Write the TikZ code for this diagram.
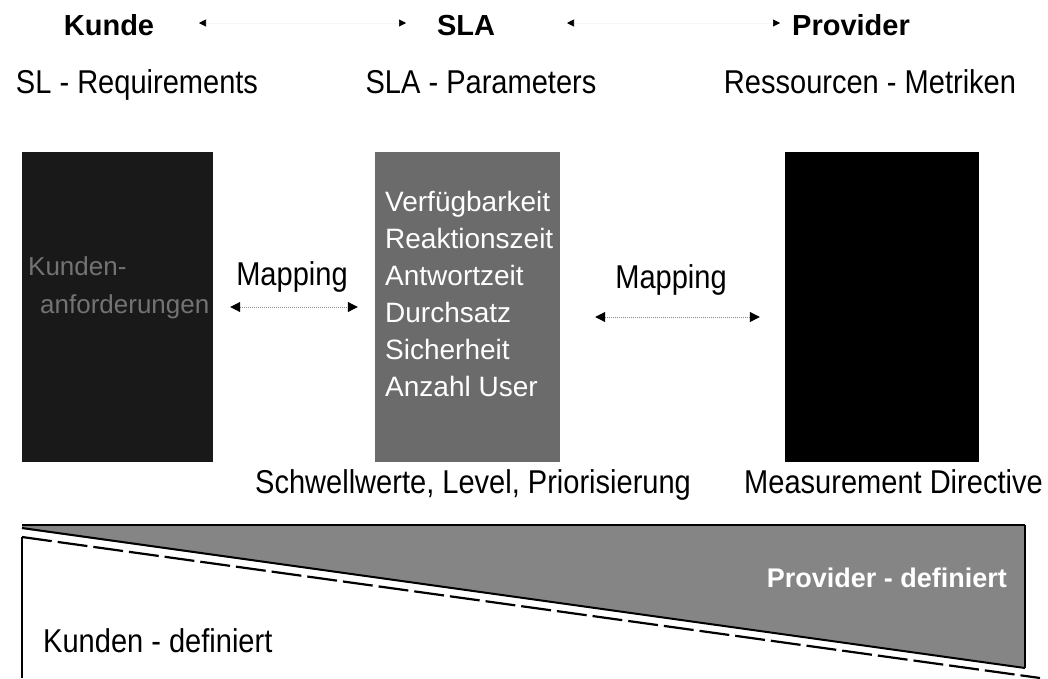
\documentclass[tikz,border=0pt]{standalone}
\usepackage{fontspec}
\setmainfont{Liberation Sans}
\newfontfamily\narrowfont[FakeStretch=0.88]{Liberation Sans}
\usetikzlibrary{arrows.meta}
\tikzset{
  ttl/.style={font=\fontsize{29}{34}\selectfont\bfseries, inner sep=0pt, anchor=base},
  lbl/.style={font=\narrowfont\fontsize{33}{38}\selectfont, inner sep=0pt, anchor=base},
  blbl/.style={font=\narrowfont\fontsize{33}{38}\selectfont, inner sep=0pt, anchor=base west},
  boxn/.style={rectangle, inner sep=0pt, draw=none, minimum height=310pt},
  ltext/.style={font=\fontsize{26}{32}\selectfont, text=black!55, inner sep=0pt, anchor=base west},
  mtext/.style={font=\fontsize{28}{34}\selectfont, text=white, inner sep=0pt, anchor=base west},
  toparrow/.style={draw=black!3, line width=0.6pt,
    {Triangle[black,length=7pt,width=7pt]}-{Triangle[black,length=7pt,width=7pt]}},
  maparrow/.style={draw=black!45, line width=1pt, densely dotted,
    {Triangle[black,length=10pt,width=10pt]}-{Triangle[black,length=10pt,width=10pt]}}
}
\begin{document}
\begin{tikzpicture}[x=1pt,y=-1pt]
\useasboundingbox (0,0) rectangle (1048,678);
\fill[white] (0,0) rectangle (1048,678);

% top titles
\node[ttl] (kunde) at (109,35) {Kunde};
\node[ttl] (sla) at (466,35) {SLA};
\node[ttl] (prov) at (851,35) {Provider};
\coordinate (t1a) at (199,23);
\coordinate (t1b) at (406,23);
\coordinate (t2a) at (567,23);
\coordinate (t2b) at (780,23);
\draw[toparrow] (t1a) -- (t1b);
\draw[toparrow] (t2a) -- (t2b);

% second row
\node[lbl] (slreq) at (137,93) {SL - Requirements};
\node[lbl] (slapar) at (481,93) {SLA - Parameters};
\node[lbl] (resmet) at (870,93) {Ressourcen - Metriken};

% boxes
\node[boxn, fill=black!90, minimum width=191pt] (lbox) at (117.5,307) {};
\node[boxn, fill=black!58, minimum width=185pt] (mbox) at (467.5,307) {};
\node[boxn, fill=black, minimum width=194pt] (rbox) at (882,307) {};

% left box text
\node[ltext] (lt1) at (28,275) {Kunden-};
\node[ltext] (lt2) at (40,313) {anforderungen};

% middle box text
\foreach \t [count=\i] in {Verfügbarkeit, Reaktionszeit, Antwortzeit, Durchsatz, Sicherheit, Anzahl User}
  \node[mtext] (m\i) at (385,174+37*\i) {\t};

% mapping
\node[lbl] (map1) at (292,285) {Mapping};
\node[lbl] (map2) at (671,288) {Mapping};
\draw[maparrow] ([xshift=17pt]lbox.east) -- ([xshift=-17pt]mbox.west);
\draw[maparrow] ([xshift=35pt,yshift=-10pt]mbox.east) -- ([xshift=-25pt,yshift=-10pt]rbox.west);

% labels under boxes
\node[blbl] (sw) at (255,493) {Schwellwerte, Level, Priorisierung};
\node[blbl] (md) at (744,493) {Measurement Directive};

% bottom wedge
\fill[black!48] (22,525) -- (1025,525) -- (1025,668) -- (22,529) -- cycle;
\draw[line width=2.5pt] (22,525) -- (1025,525);
\draw[line width=1.5pt] (1025,525) -- (1025,668);
\draw[line width=2pt] (22,528) -- (1025,668);
\draw[line width=2.2pt, dash pattern=on 30pt off 6pt] (22,537) -- (1040,678);
\draw[line width=1.2pt] (22,537) -- (22,678);

\node[font=\fontsize{27}{32}\selectfont\bfseries, text=white, inner sep=0pt, anchor=base east] (pd) at (1007,587) {Provider - definiert};
\node[blbl] (kd) at (43,652) {Kunden - definiert};
\end{tikzpicture}
\end{document}
